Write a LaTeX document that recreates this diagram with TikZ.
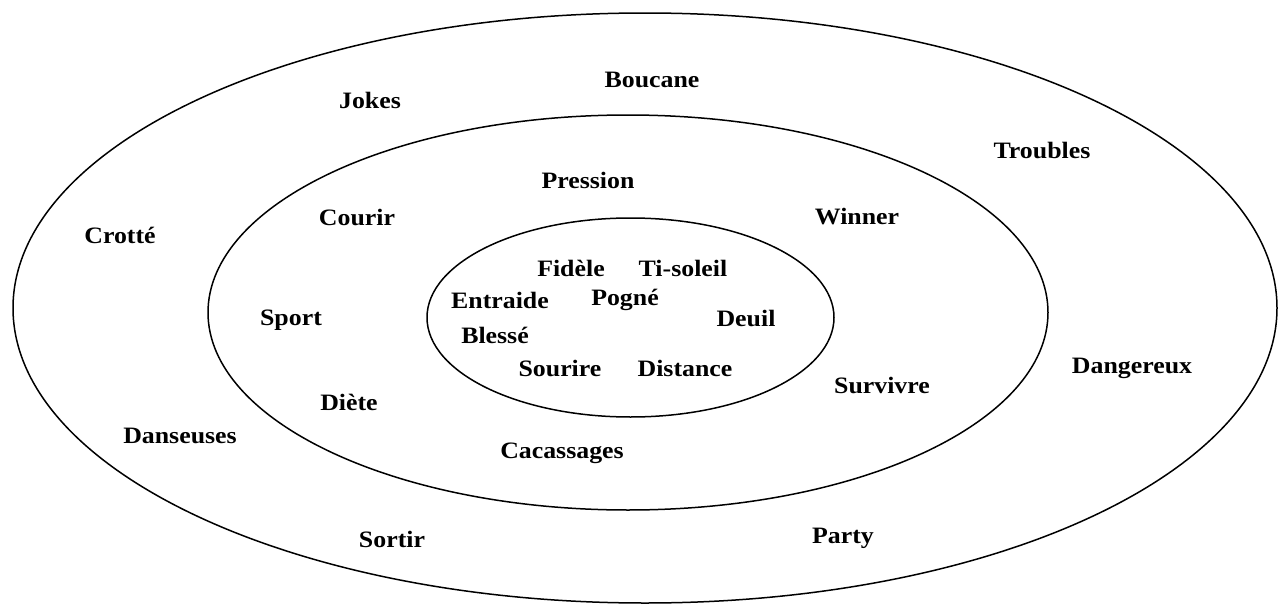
\documentclass[tikz,border=0pt]{standalone}
\usepackage{fontspec}
\setmainfont{Liberation Serif}[FakeStretch=1.1]
\begin{document}
\begin{tikzpicture}[x=1pt,y=-1pt,
  ring/.style={line width=1.5pt},
  word/.style={font=\fontsize{23.5}{26}\selectfont\bfseries, inner sep=0pt, anchor=center}]
\useasboundingbox (0,0) rectangle (1278,605);
% rings
\draw[ring] (645,308) ellipse (632 and 295);
\draw[ring] (628,312.5) ellipse (420 and 197.5);
\draw[ring] (630.5,317.5) ellipse (203.5 and 99.5);
% outer ring words
\node[word] (boucane) at (652,80) {Boucane};
\node[word] (jokes) at (370,100) {Jokes};
\node[word] (troubles) at (1042,150) {Troubles};
\node[word] (crotte) at (120,235) {Crotté};
\node[word] (dangereux) at (1132,368) {Dangereux};
\node[word] (danseuses) at (180,436) {Danseuses};
\node[word] (sortir) at (392,539) {Sortir};
\node[word] (party) at (843,538) {Party};
% middle ring words
\node[word] (pression) at (588,180) {Pression};
\node[word] (courir) at (357,217) {Courir};
\node[word] (winner) at (857,217) {Winner};
\node[word] (sport) at (291,320) {Sport};
\node[word] (survivre) at (882,385) {Survivre};
\node[word] (diete) at (349,402) {Diète};
\node[word] (cacassages) at (562,453) {Cacassages};
% inner ring words
\node[word] (fidele) at (571,268) {Fidèle};
\node[word] (tisoleil) at (683,268) {Ti-soleil};
\node[word] (entraide) at (500,300) {Entraide};
\node[word] (pogne) at (625,300) {Pogné};
\node[word] (deuil) at (746,318) {Deuil};
\node[word] (blesse) at (495,335) {Blessé};
\node[word] (sourire) at (560,368) {Sourire};
\node[word] (distance) at (685,368) {Distance};
\end{tikzpicture}
\end{document}
